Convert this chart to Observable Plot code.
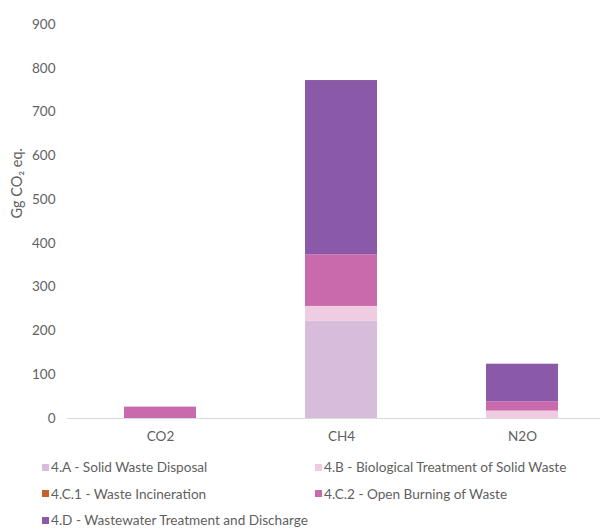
<!DOCTYPE html>
<html>
<head>
<meta charset="utf-8">
<script src="https://cdn.jsdelivr.net/npm/d3@7"></script>
<script src="https://cdn.jsdelivr.net/npm/@observablehq/plot@0.6"></script>
<style>
  body { margin: 0; background: #fff; font-family: Lato, "Open Sans", sans-serif; }
  #chart { width: 600px; }
  .legend { display: grid; grid-template-columns: 273px 285px; padding-left: 42px; padding-top: 9px; font-size: 13.6px; color: #5f5f5f; line-height: 26.5px; }
  .legend .item { display: flex; align-items: center; white-space: nowrap; }
  .legend .sw { width: 7px; height: 7px; margin-right: 2px; flex: none; }
</style>
</head>
<body>
<div id="chart"></div>
<script>
const gases = ["CO2", "CH4", "N2O"];
const series = [
  "4.A - Solid Waste Disposal",
  "4.B - Biological Treatment of Solid Waste",
  "4.C.1 - Waste Incineration",
  "4.C.2 - Open Burning of Waste",
  "4.D - Wastewater Treatment and Discharge"
];
const colors = ["#d7bcdc", "#f0cce2", "#c5602a", "#c86aab", "#8a5aa8"];
// values per series, aligned with gases
const solidWaste   = [0, 222, 0];
const biological   = [0, 34, 17];
const incineration = [0, 0, 0];
const openBurning  = [26, 118, 21];
const wastewater   = [0, 398, 86];
const yTicks = [0, 100, 200, 300, 400, 500, 600, 700, 800, 900];

const seriesValues = [solidWaste, biological, incineration, openBurning, wastewater];
const data = [];
series.forEach((s, i) => gases.forEach((g, j) => data.push({gas: g, series: s, value: seriesValues[i][j]})));

const plot = Plot.plot({
  width: 600,
  height: 445,
  marginTop: 24,
  marginBottom: 27,
  marginLeft: 67,
  marginRight: 0,
  style: {fontFamily: "Lato, 'Open Sans', sans-serif", fontSize: "13.5px", color: "#5f5f5f", background: "#fff"},
  x: {domain: gases, range: [69, 613], paddingInner: 0.6, paddingOuter: 0.3, label: null},
  y: {domain: [0, 900], ticks: yTicks, label: null},
  color: {domain: series, range: colors},
  marks: [
    Plot.barY(data, {x: "gas", y: "value", fill: "series", order: series}),
    Plot.ruleY([0], {stroke: "#d9d9d9", strokeWidth: 1}),
    Plot.axisY({ticks: yTicks, tickSize: 0, tickPadding: 12, label: null}),
    Plot.axisX({tickSize: 0, tickPadding: 13, label: null}),
    Plot.text(["Gg CO₂ eq."], {frameAnchor: "left", dx: -50, dy: -3, rotate: -90, fontSize: 14.5, fill: "#5f5f5f"})
  ]
});
document.getElementById("chart").appendChild(plot);

const legend = document.createElement("div");
legend.className = "legend";
series.forEach((s, i) => {
  const item = document.createElement("div");
  item.className = "item";
  const sw = document.createElement("span");
  sw.className = "sw";
  sw.style.background = colors[i];
  item.appendChild(sw);
  item.appendChild(document.createTextNode(s));
  legend.appendChild(item);
});
document.getElementById("chart").appendChild(legend);
</script>
</body>
</html>
